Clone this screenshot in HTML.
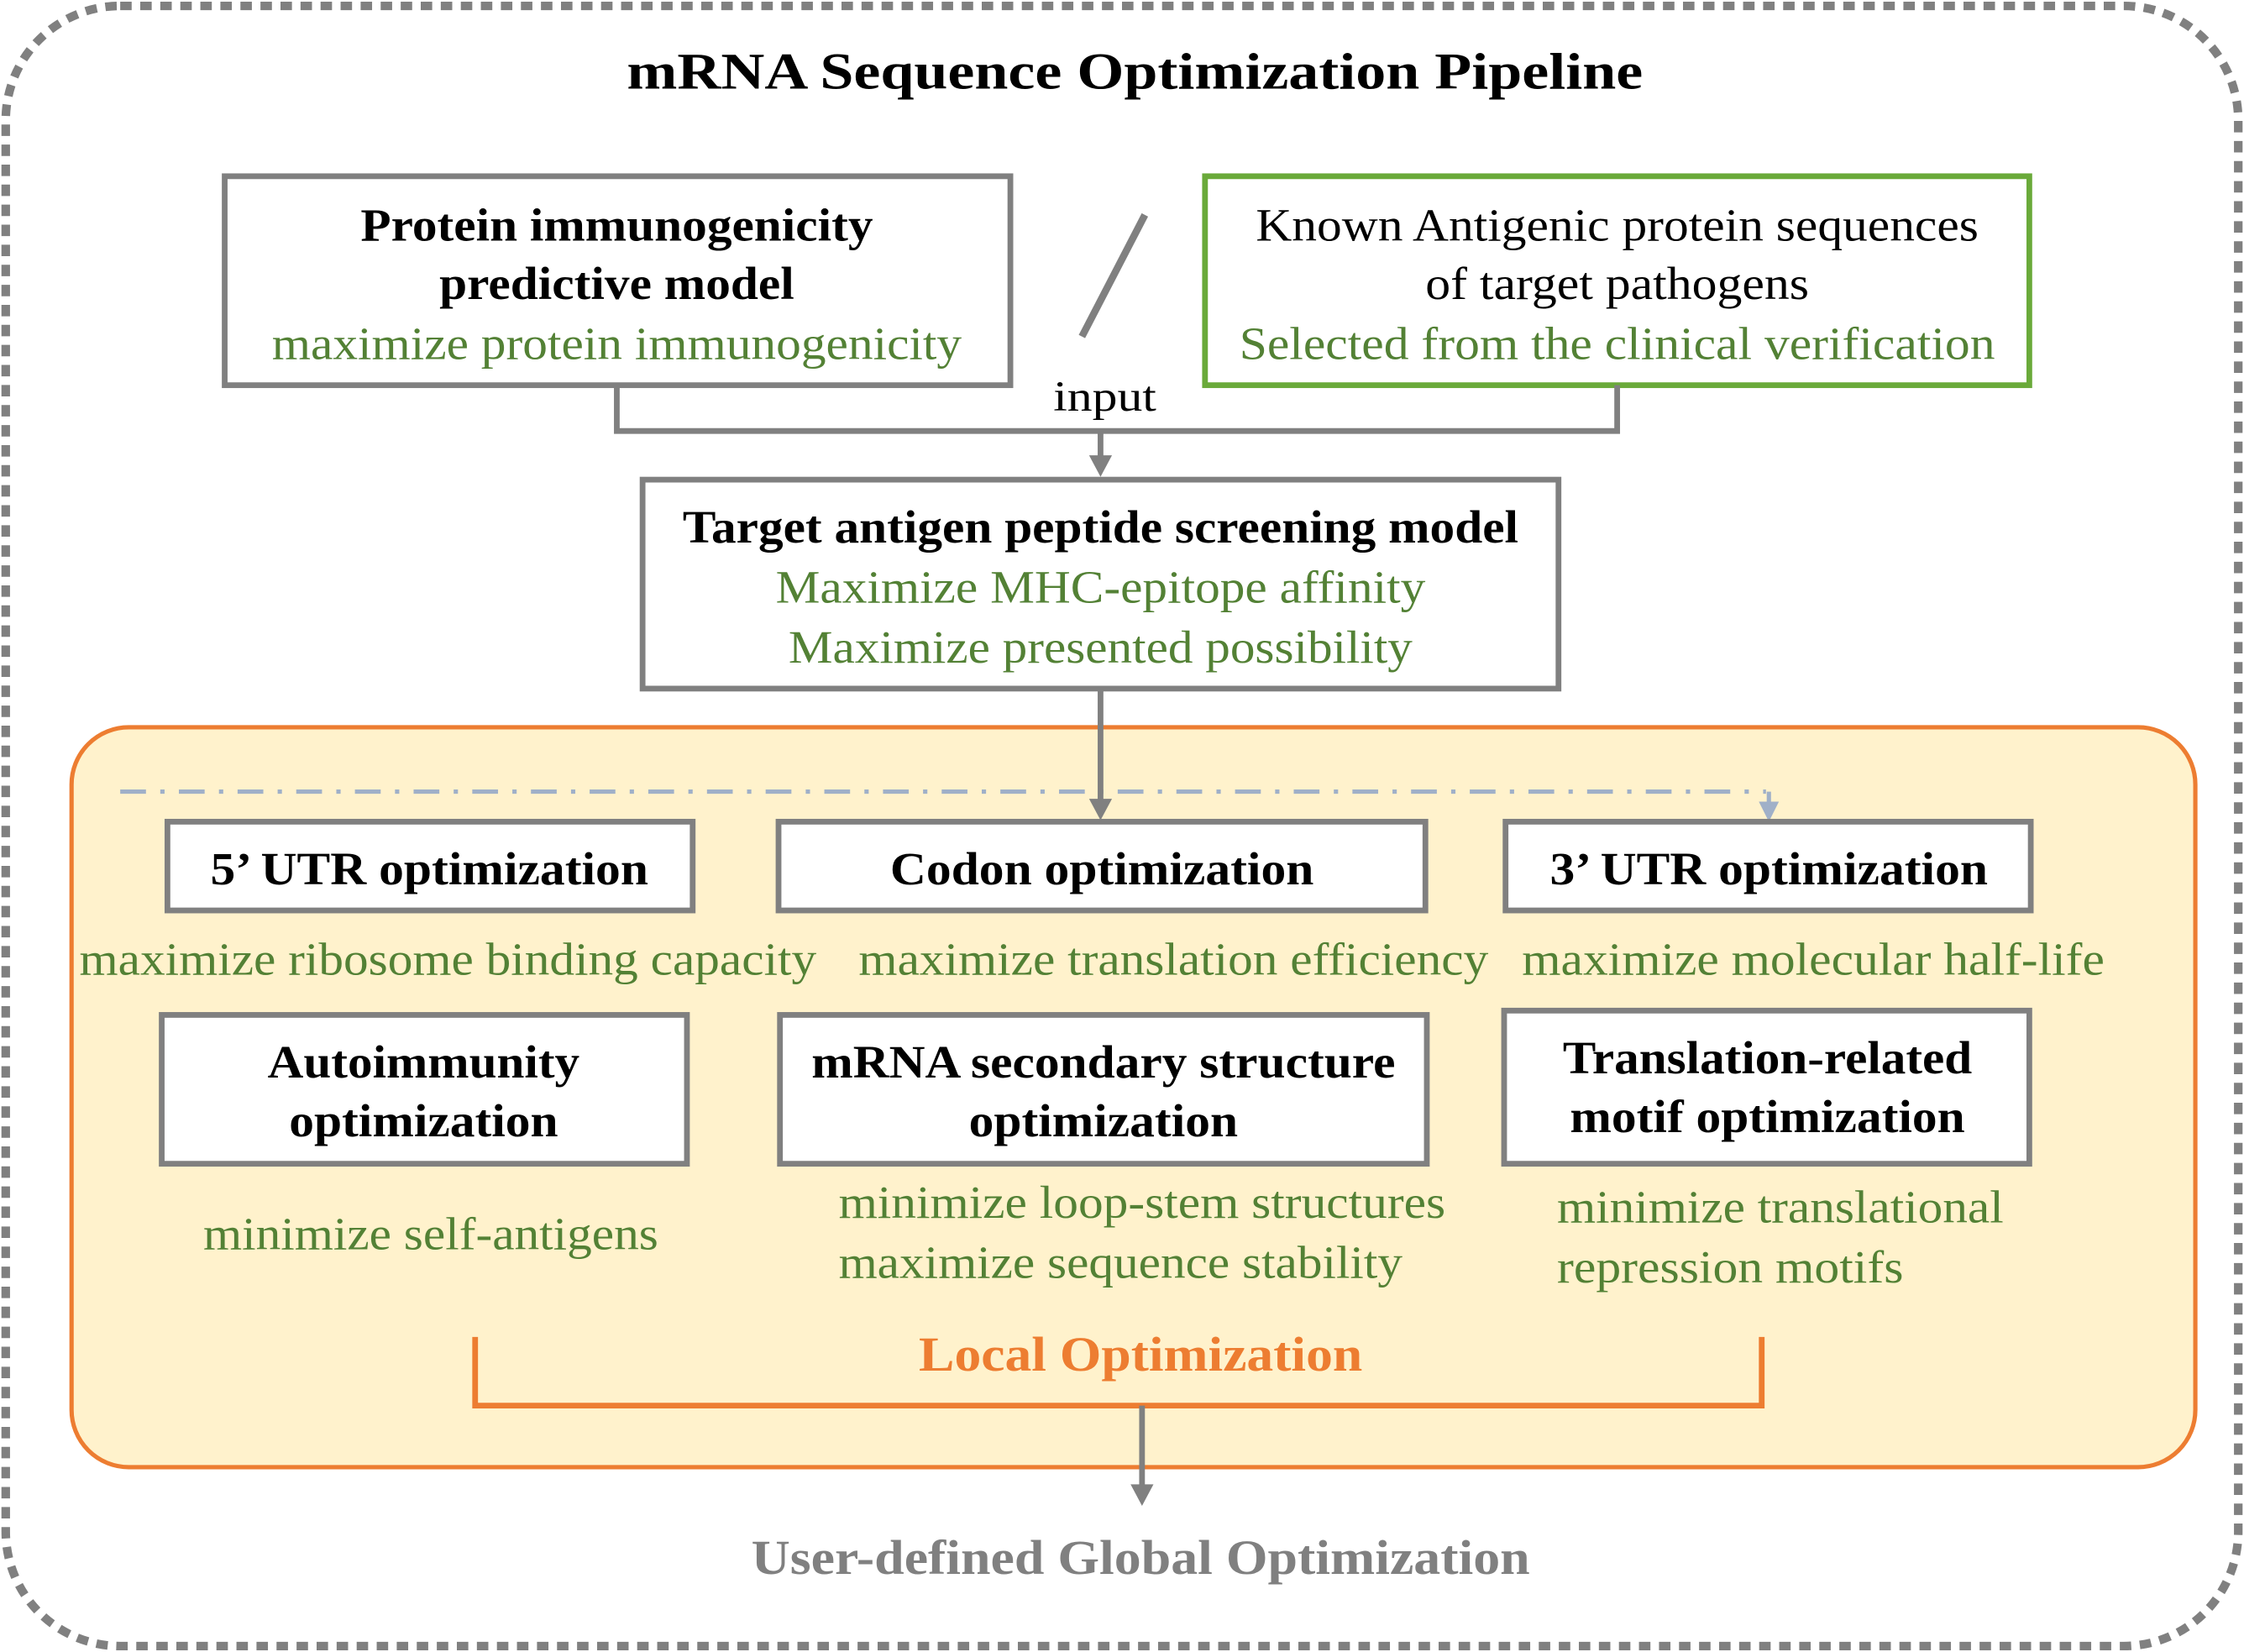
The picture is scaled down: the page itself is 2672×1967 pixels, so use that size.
<!DOCTYPE html>
<html><head><meta charset="utf-8"><style>
html,body{margin:0;padding:0;background:#fff;}
svg{display:block;}
text{font-family:"Liberation Serif",serif;dominant-baseline:central;text-anchor:middle;}
.b{font-weight:bold;fill:#000;}
.g{fill:#538135;}
.k{fill:#000;}
</style></head><body>
<svg width="2672" height="1967" viewBox="0 0 1568 1154" xmlns="http://www.w3.org/2000/svg">
<defs>
<marker id="ag" viewBox="0 0 10 10" refX="5" refY="9" markerWidth="4" markerHeight="4" orient="auto-start-reverse" markerUnits="userSpaceOnUse"></marker>
</defs>
<rect x="4" y="4" width="1560" height="1146" rx="80" fill="#fff" stroke="#808080" stroke-width="6" stroke-dasharray="8,6"/>
<text x="793" y="50" class="b" font-size="36" textLength="710" lengthAdjust="spacingAndGlyphs">mRNA Sequence Optimization Pipeline</text>

<rect x="157" y="123" width="549" height="146" fill="#fff" stroke="#808080" stroke-width="4"/>
<text x="431" y="157" class="b" font-size="32" textLength="358" lengthAdjust="spacingAndGlyphs">Protein immunogenicity</text>
<text x="431" y="198" class="b" font-size="32" textLength="248" lengthAdjust="spacingAndGlyphs">predictive model</text>
<text x="431" y="240" class="g" font-size="32" textLength="482" lengthAdjust="spacingAndGlyphs">maximize protein immunogenicity</text>

<line x1="800" y1="150" x2="756" y2="235" stroke="#808080" stroke-width="5"/>

<rect x="842" y="123" width="576" height="146" fill="#fff" stroke="#6aaa3a" stroke-width="4"/>
<text x="1130" y="157" class="k" font-size="32" textLength="505" lengthAdjust="spacingAndGlyphs">Known Antigenic protein sequences</text>
<text x="1130" y="198" class="k" font-size="32" textLength="268" lengthAdjust="spacingAndGlyphs">of target pathogens</text>
<text x="1130" y="240" class="g" font-size="32" textLength="528" lengthAdjust="spacingAndGlyphs">Selected from the clinical verification</text>

<polyline points="431,269 431,301 1130,301 1130,269" fill="none" stroke="#808080" stroke-width="4"/>
<text x="772" y="277" class="k" font-size="30" textLength="72" lengthAdjust="spacingAndGlyphs">input</text>
<line x1="769" y1="301" x2="769" y2="322" stroke="#808080" stroke-width="4"/>
<polygon points="761,318 777,318 769,333" fill="#808080"/>

<rect x="449" y="335" width="640" height="146" fill="#fff" stroke="#808080" stroke-width="4"/>
<text x="769" y="368" class="b" font-size="32" textLength="584" lengthAdjust="spacingAndGlyphs">Target antigen peptide screening model</text>
<text x="769" y="410" class="g" font-size="32" textLength="454" lengthAdjust="spacingAndGlyphs">Maximize MHC-epitope affinity</text>
<text x="769" y="452" class="g" font-size="32" textLength="436" lengthAdjust="spacingAndGlyphs">Maximize presented possibility</text>

<rect x="50" y="508" width="1484" height="517" rx="40" fill="#fff2cc" stroke="#ed7d31" stroke-width="3"/>

<line x1="84" y1="553" x2="1234" y2="553" stroke="#a0b0c8" stroke-width="3" stroke-dasharray="18,10,3,10"/>
<line x1="1236" y1="553" x2="1236" y2="562" stroke="#a0b0c8" stroke-width="3"/>
<polygon points="1229,560 1243,560 1236,574" fill="#a0b0c8"/>

<line x1="769" y1="481" x2="769" y2="562" stroke="#808080" stroke-width="4"/>
<polygon points="761,558 777,558 769,573" fill="#808080"/>

<rect x="117" y="574" width="367" height="62" fill="#fff" stroke="#808080" stroke-width="4"/>
<text x="300" y="607" class="b" font-size="32" textLength="306" lengthAdjust="spacingAndGlyphs">5’ UTR optimization</text>
<rect x="544" y="574" width="452" height="62" fill="#fff" stroke="#808080" stroke-width="4"/>
<text x="770" y="607" class="b" font-size="32" textLength="296" lengthAdjust="spacingAndGlyphs">Codon optimization</text>
<rect x="1052" y="574" width="367" height="62" fill="#fff" stroke="#808080" stroke-width="4"/>
<text x="1236" y="607" class="b" font-size="32" textLength="306" lengthAdjust="spacingAndGlyphs">3’ UTR optimization</text>

<text x="313" y="670" class="g" font-size="32" textLength="515" lengthAdjust="spacingAndGlyphs">maximize ribosome binding capacity</text>
<text x="820" y="670" class="g" font-size="32" textLength="440" lengthAdjust="spacingAndGlyphs">maximize translation efficiency</text>
<text x="1267" y="670" class="g" font-size="32" textLength="407" lengthAdjust="spacingAndGlyphs">maximize molecular half-life</text>

<rect x="113" y="709" width="367" height="104" fill="#fff" stroke="#808080" stroke-width="4"/>
<text x="296" y="742" class="b" font-size="32" textLength="218" lengthAdjust="spacingAndGlyphs">Autoimmunity</text>
<text x="296" y="783" class="b" font-size="32" textLength="188" lengthAdjust="spacingAndGlyphs">optimization</text>
<rect x="545" y="709" width="452" height="104" fill="#fff" stroke="#808080" stroke-width="4"/>
<text x="771" y="742" class="b" font-size="32" textLength="408" lengthAdjust="spacingAndGlyphs">mRNA secondary structure</text>
<text x="771" y="783" class="b" font-size="32" textLength="188" lengthAdjust="spacingAndGlyphs">optimization</text>
<rect x="1051" y="706" width="367" height="107" fill="#fff" stroke="#808080" stroke-width="4"/>
<text x="1235" y="739" class="b" font-size="32" textLength="286" lengthAdjust="spacingAndGlyphs">Translation-related</text>
<text x="1235" y="780" class="b" font-size="32" textLength="276" lengthAdjust="spacingAndGlyphs">motif optimization</text>

<text x="301" y="862" class="g" font-size="32" textLength="318" lengthAdjust="spacingAndGlyphs">minimize self-antigens</text>
<text x="586" y="840" class="g" font-size="32" style="text-anchor:start" textLength="424" lengthAdjust="spacingAndGlyphs">minimize loop-stem structures</text>
<text x="586" y="882" class="g" font-size="32" style="text-anchor:start" textLength="394" lengthAdjust="spacingAndGlyphs">maximize sequence stability</text>
<text x="1088" y="843" class="g" font-size="32" style="text-anchor:start" textLength="312" lengthAdjust="spacingAndGlyphs">minimize translational</text>
<text x="1088" y="885" class="g" font-size="32" style="text-anchor:start" textLength="242" lengthAdjust="spacingAndGlyphs">repression motifs</text>

<text x="797" y="946" class="b" font-size="34" style="fill:#ed7d31" textLength="310" lengthAdjust="spacingAndGlyphs">Local Optimization</text>
<polyline points="332,934 332,982 1231,982 1231,934" fill="none" stroke="#ed7d31" stroke-width="4"/>

<line x1="798" y1="982" x2="798" y2="1040" stroke="#808080" stroke-width="4"/>
<polygon points="790,1037 806,1037 798,1052" fill="#808080"/>
<text x="797" y="1088" class="b" font-size="34" style="fill:#808080" textLength="544" lengthAdjust="spacingAndGlyphs">User-defined Global Optimization</text>
</svg>
</body></html>
